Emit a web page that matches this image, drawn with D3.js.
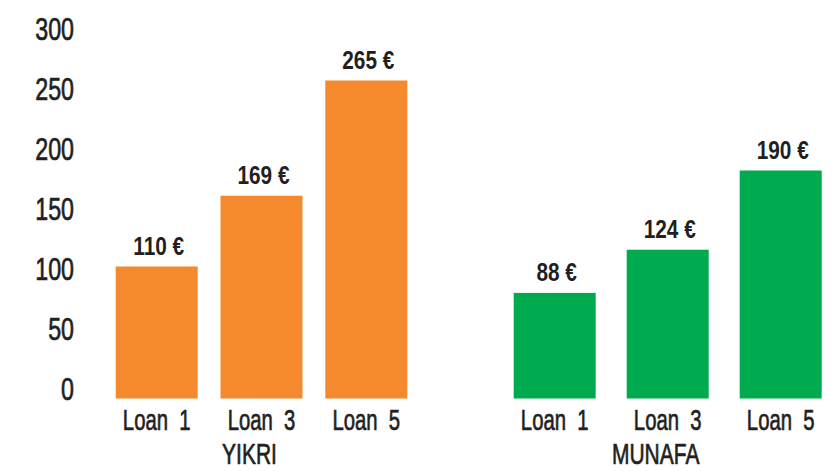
<!DOCTYPE html>
<html>
<head>
<meta charset="utf-8">
<script src="https://cdn.jsdelivr.net/npm/d3@7"></script>
<style>
  html, body { margin: 0; padding: 0; background: #fff; }
  svg { display: block; font-family: "Liberation Sans", Arial, sans-serif; }
</style>
</head>
<body>
<svg id="chart" width="840" height="471"></svg>
<script>
// data
const groups = ["YIKRI", "MUNAFA"];
const loans = ["Loan 1", "Loan 3", "Loan 5"];
const yikriValues = [110, 169, 265];
const munafaValues = [88, 124, 190];
const yTicks = [0, 50, 100, 150, 200, 250, 300];

const seriesValues = { YIKRI: yikriValues, MUNAFA: munafaValues };
const colors = { YIKRI: "#F48A2D", MUNAFA: "#00AA4F" };

// layout
const svg = d3.select("#chart");
const width = +svg.attr("width");
const height = +svg.attr("height");
const margin = { top: 38.5, bottom: 72.5, left: 74 };
const barWidth = 82;
// each group occupies its own horizontal span
const groupSpan = { YIKRI: [115.7, 407.3], MUNAFA: [513.7, 821.7] };
const textColor = "#231F20";
const squeeze = 0.7;      // condensed look of the original face

// medium-weight condensed text
function medium(sel, size) {
  sel.attr("font-size", size + "px")
    .attr("font-weight", "normal")
    .attr("fill", textColor)
    .attr("stroke", textColor)
    .attr("stroke-width", 0.7)
    .attr("stroke-linejoin", "round");
}

const y = d3.scaleLinear()
  .domain([0, 300])
  .range([height - margin.bottom, margin.top]);

// y axis (labels only)
const yAxis = svg.append("g")
  .attr("transform", `translate(${margin.left},0)`)
  .call(d3.axisLeft(y).tickValues(yTicks).tickSize(0).tickPadding(0));
yAxis.select(".domain").remove();
yAxis.selectAll("text")
  .attr("dy", "0.02em")
  .attr("transform", "scale(0.75,1)")
  .call(medium, 31);

// bars per group
groups.forEach(g => {
  const [x0, x1] = groupSpan[g];
  const step = (x1 - x0 - barWidth) / (loans.length - 1);
  const xb = d3.scaleBand()
    .domain(loans)
    .range([x0, x1])
    .paddingInner(1 - barWidth / step)
    .paddingOuter(0);

  const data = loans.map((l, i) => ({ loan: l, value: seriesValues[g][i] }));
  const grp = svg.append("g");

  grp.selectAll("rect")
    .data(data)
    .enter()
    .append("rect")
    .attr("x", d => xb(d.loan))
    .attr("y", d => y(d.value))
    .attr("width", xb.bandwidth())
    .attr("height", d => y(0) - y(d.value))
    .attr("fill", colors[g]);

  grp.selectAll(".val")
    .data(data)
    .enter()
    .append("text")
    .attr("class", "val")
    .attr("transform", d => `translate(${xb(d.loan) + xb.bandwidth() / 2 + 2},${y(d.value) - 11.5}) scale(0.8,1)`)
    .attr("text-anchor", "middle")
    .attr("font-size", "26px")
    .attr("font-weight", "bold")
    .attr("fill", textColor)
    .text(d => `${d.value} €`);

  const xAxis = svg.append("g")
    .attr("transform", `translate(0,${y(0)})`)
    .call(d3.axisBottom(xb).tickSize(0).tickPadding(11));
  xAxis.select(".domain").remove();
  xAxis.selectAll("text")
    .attr("transform", `scale(${squeeze},1)`)
    .attr("xml:space", "preserve")
    .text(d => d.replace(" ", "  "))
    .call(medium, 29);

  svg.append("text")
    .attr("transform", `translate(${(x0 + x1) / 2 - 12},${y(0) + 65}) scale(${squeeze},1)`)
    .attr("text-anchor", "middle")
    .call(medium, 30)
    .text(g);
});
</script>
</body>
</html>
